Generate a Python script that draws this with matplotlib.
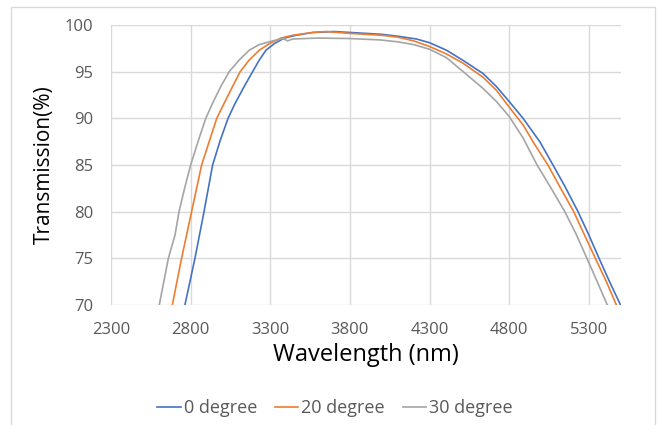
import matplotlib
matplotlib.use("Agg")
import matplotlib.pyplot as plt
from matplotlib.patches import Rectangle

# 0 degree
wl_0 = [2740, 2764, 2827, 2884, 2938, 2985, 3035, 3079, 3136, 3189, 3231, 3273, 3325,
        3388, 3462, 3567, 3700, 3800, 3900, 4000, 4100, 4218, 4300, 4406, 4511, 4636,
        4720, 4800, 4887, 4992, 5075, 5150, 5232, 5300, 5364, 5430, 5499, 5520]
tr_0 = [68.5, 70.0, 75.0, 80.0, 85.0, 87.6, 90.0, 91.6, 93.4, 95.0, 96.25, 97.3, 98.0,
        98.6, 98.9, 99.2, 99.3, 99.2, 99.1, 99.0, 98.8, 98.5, 98.1, 97.3, 96.2, 94.8,
        93.4, 91.8, 90.0, 87.5, 85.0, 82.7, 80.0, 77.5, 75.0, 72.5, 70.0, 69.2]

# 20 degree
wl_20 = [2665, 2685, 2743, 2806, 2869, 2920, 2964, 3010, 3063, 3111, 3168, 3231, 3294,
         3367, 3441, 3567, 3650, 3800, 3900, 4000, 4100, 4200, 4300, 4406, 4511, 4636,
         4720, 4800, 4887, 4960, 5043, 5120, 5205, 5270, 5341, 5410, 5473, 5495]
tr_20 = [68.5, 70.0, 75.0, 80.0, 85.0, 87.7, 90.0, 91.6, 93.4, 95.0, 96.25, 97.3, 98.0,
         98.6, 98.9, 99.2, 99.3, 99.1, 99.0, 98.9, 98.7, 98.3, 97.7, 96.9, 95.9, 94.4,
         93.0, 91.2, 89.3, 87.2, 85.0, 82.6, 80.0, 77.6, 75.0, 72.5, 70.0, 69.2]

# 30 degree
wl_30 = [2585, 2603, 2660, 2702, 2727, 2762, 2800, 2848, 2895, 2937, 2989, 3042, 3105,
         3168, 3231, 3315, 3380, 3409, 3440, 3600, 3800, 3990, 4100, 4200, 4300, 4406,
         4511, 4636, 4720, 4800, 4887, 4975, 5060, 5149, 5220, 5288, 5350, 5416, 5440]
tr_30 = [68.5, 70.0, 75.0, 77.5, 80.0, 82.5, 85.0, 87.6, 90.0, 91.6, 93.4, 95.0, 96.25,
         97.3, 97.9, 98.3, 98.55, 98.3, 98.5, 98.6, 98.55, 98.4, 98.2, 97.9, 97.4, 96.5,
         95.0, 93.2, 91.8, 90.2, 87.9, 85.0, 82.6, 80.0, 77.6, 75.0, 72.6, 70.0, 69.3]

series = [
    ("0 degree", wl_0, tr_0, "#4472C4"),
    ("20 degree", wl_20, tr_20, "#ED7D31"),
    ("30 degree", wl_30, tr_30, "#A5A5A5"),
]

x_ticks = [2300, 2800, 3300, 3800, 4300, 4800, 5300]
y_ticks = [70, 75, 80, 85, 90, 95, 100]

plt.rcParams["font.family"] = ["Open Sans", "DejaVu Sans"]

W, H = 658, 425
fig = plt.figure(figsize=(W / 100, H / 100), dpi=100)
ax = fig.add_axes([111 / W, 1 - 305 / H, (620.7 - 111) / W, (305 - 25) / H])

# chart area border
fig.patches.append(Rectangle((11 / W, -0.05), (655 - 11) / W, 1.05 - 7 / H,
                             transform=fig.transFigure, fill=False,
                             edgecolor="#D9D9D9", linewidth=1.0))

for label, wl, tr, color in series:
    ax.plot(wl, tr, color=color, linewidth=1.2, label=label)

ax.set_xlim(2300, 5500)
ax.set_ylim(70, 100)
ax.set_xticks(x_ticks)
ax.set_yticks(y_ticks)
ax.grid(True, color="#D9D9D9", linewidth=1.0)
ax.set_axisbelow(True)
for s in ax.spines.values():
    s.set_visible(False)
ax.tick_params(length=0, labelsize=12, labelcolor="#595959")
ax.tick_params(axis="y", pad=13)
ax.tick_params(axis="x", pad=12)

ax.set_xlabel("Wavelength (nm)", fontsize=17, labelpad=4)
ax.set_ylabel("Transmission(%)", fontsize=15, labelpad=7)

leg = fig.legend(loc="center", bbox_to_anchor=(335 / W, 1 - 408 / H), ncol=3,
                 frameon=False, fontsize=13, handlelength=1.3, handletextpad=0.15,
                 columnspacing=1.0)
for t in leg.get_texts():
    t.set_color("#595959")

fig.savefig("out.png", dpi=100)
